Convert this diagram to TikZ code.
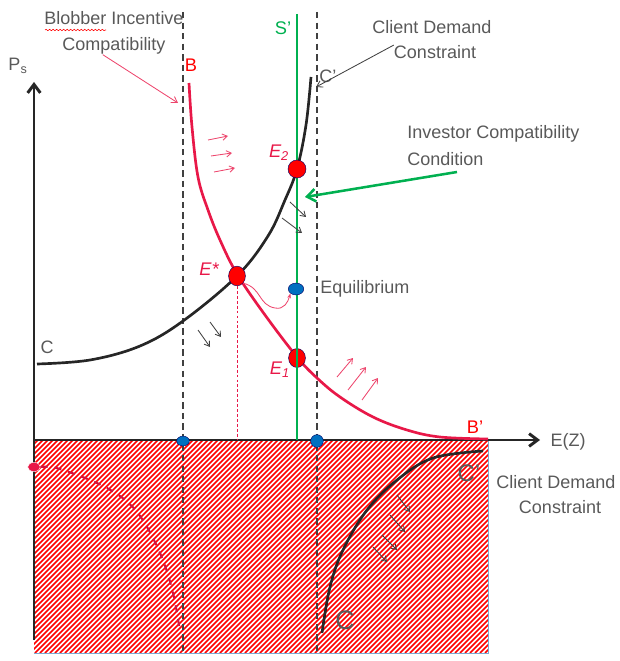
\documentclass[tikz,border=0pt]{standalone}
\usepackage{fontspec}
\setmainfont{Liberation Sans}
\usetikzlibrary{arrows.meta,shapes.geometric,decorations.pathmorphing}

\definecolor{curvered}{RGB}{232,24,72}
\definecolor{hatchred}{RGB}{255,0,0}
\definecolor{labelgray}{RGB}{89,89,89}
\definecolor{sgreen}{RGB}{0,176,80}
\definecolor{dotblue}{RGB}{0,112,192}
\definecolor{dashgray}{RGB}{64,64,64}
\definecolor{boxblue}{RGB}{120,170,210}

\tikzset{
  lbl/.style={text=labelgray, font=\fontsize{12.8}{18.5}\selectfont, inner sep=0pt},
  elbl/.style={text=curvered, font=\fontsize{13}{15}\selectfont\itshape, inner sep=0pt},
  guide/.style={dashgray, line width=1.4pt, dash pattern=on 4.5pt off 3pt},
  axisline/.style={black!85, line width=2.1pt, -{Straight Barb[length=6pt,width=9pt]}},
  fieldarrow/.style={line width=0.6pt, -{Straight Barb[length=3.5pt,width=4.5pt]}},
  dot/.style={ellipse, inner sep=0pt, draw=blue!40!black, line width=0.3pt},
}

\begin{document}
\begin{tikzpicture}[x=0.025cm, y=-0.025cm]
  \useasboundingbox (0,0) rectangle (619,661);

  % Hatched region under the axis
  \begin{scope}
    \clip (34,440) rectangle (488,653);
    \foreach \k in {-215,-210,...,490}
      \draw[hatchred, line width=1.15pt] (\k,653) -- (\k+213,440);
  \end{scope}
  \draw[boxblue, line width=0.6pt] (34,653) -- (488,653) -- (488,440);

  % Dashed guide lines
  \draw[guide] (183,12) -- (183,653);
  \draw[guide] (317,12) -- (317,653);

  % Axes
  \coordinate (o) at (34,440);
  \draw[axisline] (34,640) -- (34,82);
  \draw[axisline] (o) -- (540,440);
  \node[lbl] (ps) at (18,66) {P\textsubscript{s}};
  \node[lbl] (ez) at (568,442) {E(Z)};

  % Client demand curve C--C'
  \draw[black!85, line width=1.9pt] plot[smooth, tension=0.6] coordinates {(37,364) (90,360) (140,346) (183,321) (237,276) (268,236) (285,200) (297,169) (306,125) (311,77)};
  \node[lbl] (c) at (47,347) {C};
  \node[lbl, anchor=west] (cp) at (319,76) {C'};

  % Blobber incentive curve B--B'
  \draw[curvered, line width=1.9pt] plot[smooth, tension=0.6] coordinates {(189,83) (192,127) (198,177) (208,210) (220,240) (237,274) (265,315) (297,357) (317,378) (340,397) (373,417) (407,430) (440,437) (488,439)};
  \node[text=red, font=\fontsize{13}{15}\selectfont, inner sep=0pt] (b) at (191,65) {B};
  \node[text=red, font=\fontsize{13}{15}\selectfont, inner sep=0pt] (bp) at (475,427) {B'};

  % Intersection points
  \node[dot, fill=red, minimum width=12pt, minimum height=13.5pt] (E1) at (297,358) {};
  \draw[sgreen, line width=2pt] (297,14) -- (297,440);
  \node[text=sgreen, font=\fontsize{13}{15}\selectfont, inner sep=0pt] (s) at (283,28) {S'};
  \node[dot, fill=red, minimum width=12.8pt, minimum height=12.8pt] (E2) at (297,169) {};
  \node[dot, fill=red, minimum width=12pt, minimum height=14pt] (Estar) at (237,276) {};
  \node[dot, fill=dotblue, minimum width=11pt, minimum height=8.5pt] (Eq) at (296,289) {};
  \node[elbl] at (279,153) {E\textsubscript{2}};
  \node[elbl] at (209,269) {E*};
  \node[elbl] at (280,370) {E\textsubscript{1}};
  \node[lbl, anchor=west] (eqlbl) at (320,289) {Equilibrium};

  % From E* to the equilibrium
  \draw[curvered, line width=0.6pt, dash pattern=on 2pt off 1.5pt] (Estar.south) -- (Estar.south |- o);
  \draw[curvered!80, line width=0.6pt, -{Stealth[length=3.5pt]}] (Estar.south east) .. controls (262,288) and (258,305) .. (275,308) .. controls (284,310) and (288,302) .. (Eq.south west);

  % Points on the axis
  \node[dot, fill=dotblue, minimum width=9pt, minimum height=7pt] (d1) at (183,441) {};
  \node[dot, fill=dotblue, minimum width=9pt, minimum height=9pt] (d2) at (317,441) {};

  % Movement arrows
  \draw[curvered!80, fieldarrow] (208,140) -- (228,136);
  \draw[curvered!80, fieldarrow] (211,156) -- (232,153);
  \draw[curvered!80, fieldarrow] (214,172) -- (235,168);
  \draw[dashgray, fieldarrow] (290,202) -- (306,217);
  \draw[dashgray, fieldarrow] (282,218) -- (302,233);
  \draw[dashgray, fieldarrow] (198,330) -- (210,347);
  \draw[dashgray, fieldarrow] (210,322) -- (221,337);
  \draw[curvered!80, fieldarrow] (337,377) -- (353,358);
  \draw[curvered!80, fieldarrow] (348,390) -- (366,367);
  \draw[curvered!80, fieldarrow] (362,400) -- (378,378);

  % Labels with pointers
  \node[lbl, align=center] (bic) at (114,33) {Blobber Incentive\\Compatibility};
  \draw[red, line width=0.4pt, decorate, decoration={snake, amplitude=0.5pt, segment length=2.5pt}] (45,30) -- (106,30);
  \coordinate (bictip) at (178,103);
  \draw[curvered!80, line width=0.6pt, -{Straight Barb[length=4pt,width=5pt]}] ([xshift=-8pt]bic.south) -- (bictip);

  \node[lbl] (cd1) at (432,27) {Client Demand};
  \node[lbl] (cd2) at (435,52) {Constraint};
  \coordinate (cdtip) at (316,87);
  \draw[dashgray, line width=0.6pt, -{Straight Barb[length=4pt,width=5pt]}] (cd2.north west) -- (cdtip);

  \node[lbl, anchor=west] (ic1) at (407,134) {Investor Compatibility};
  \node[lbl, anchor=west] (ic2) at (407,159) {Condition};
  \coordinate (icctail) at (457,172);
  \coordinate (icctip) at (305,197);
  \draw[sgreen, line width=1.8pt, -{Straight Barb[length=6pt,width=9pt]}] (icctail) -- (icctip);

  % Lower quadrant
  \node[dot, fill=curvered, draw=white, minimum width=9pt, minimum height=6.5pt] (pd) at (34,467) {};
  \draw[curvered!90!black, line width=1.5pt, dash pattern=on 5pt off 5pt] plot[smooth, tension=0.6] coordinates {(pd.east) (60,469) (107,488) (137,512) (160,553) (173,593) (180,632)};
  \draw[black!85, line width=1.9pt] plot[smooth, tension=0.6] coordinates {(322,633) (330,587) (343,550) (367,510) (397,480) (433,458) (483,451)};
  \draw[dashgray, fieldarrow] (397,495) -- (410,512);
  \draw[dashgray, fieldarrow] (390,515) -- (405,532);
  \draw[dashgray, fieldarrow] (382,535) -- (397,550);
  \draw[dashgray, fieldarrow] (373,547) -- (387,562);
  \node[text=labelgray, font=\fontsize{17}{19}\selectfont, inner sep=0pt] (cpb) at (469,473) {C'};
  \node[text=labelgray, font=\fontsize{19}{21}\selectfont, inner sep=0pt] (cb) at (345,620) {C};
  \node[lbl] (cdb1) at (556,482) {Client Demand};
  \node[lbl] (cdb2) at (560,507) {Constraint};
\end{tikzpicture}
\end{document}
